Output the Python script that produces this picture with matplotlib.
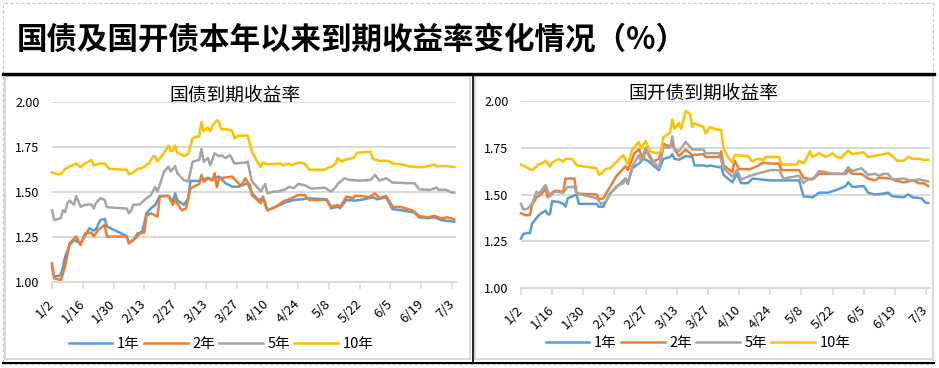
import matplotlib
matplotlib.use('Agg')
import matplotlib.pyplot as plt
import matplotlib.lines as mlines
import matplotlib.patches as mpatches
import pandas as pd

plt.rcParams['font.family'] = ['Noto Sans CJK SC', 'DejaVu Sans']

TITLE = '国债及国开债本年以来到期收益率变化情况（%）'
PANEL_TITLES = ['国债到期收益率', '国开债到期收益率']
SERIES_NAMES = ['1年', '2年', '5年', '10年']
TICK_LABELS = ['1/2', '1/16', '1/30', '2/13', '2/27', '3/13', '3/27',
               '4/10', '4/24', '5/8', '5/22', '6/5', '6/19', '7/3']
Y_TICKS = [1.00, 1.25, 1.50, 1.75, 2.00]

# ---- 国债 ----
gz_1y_dates = ['1-2', '1-3', '1-6', '1-7', '1-8', '1-10', '1-12', '1-15', '1-17', '1-19',
               '1-21', '1-22', '1-24', '1-26', '1-27', '2-5', '2-6', '2-8', '2-10', '2-12',
               '2-13', '2-14', '2-16', '2-18', '2-20', '2-24', '2-26', '2-27', '2-28', '3-3',
               '3-4', '3-5', '3-6', '3-10', '3-11', '3-12', '3-14', '3-16', '3-17', '3-19',
               '3-22', '3-25', '3-28', '3-31', '4-1', '4-3', '4-6', '4-8', '4-10', '4-14',
               '4-18', '4-22', '4-26', '4-28', '5-7', '5-9', '5-12', '5-13', '5-16', '5-20',
               '5-24', '5-28', '5-30', '6-3', '6-6', '6-10', '6-16', '6-18', '6-22', '6-25',
               '6-28', '7-1', '7-4']
gz_1y = [1.087, 1.031, 1.04, 1.087, 1.143, 1.207, 1.235, 1.217, 1.257, 1.30,
         1.287, 1.294, 1.346, 1.352, 1.31, 1.257, 1.217, 1.235, 1.272, 1.281,
         1.328, 1.383, 1.411, 1.43, 1.48, 1.48, 1.448, 1.494, 1.457, 1.43,
         1.448, 1.467, 1.563, 1.563, 1.581, 1.569, 1.581, 1.569, 1.581, 1.587,
         1.55, 1.531, 1.531, 1.546, 1.55, 1.494, 1.457, 1.467, 1.40, 1.42,
         1.443, 1.457, 1.461, 1.467, 1.461, 1.411, 1.42, 1.411, 1.457, 1.454,
         1.461, 1.472, 1.461, 1.472, 1.406, 1.40, 1.387, 1.361, 1.356, 1.361,
         1.346, 1.341, 1.337]

gz_2y_dates = ['1-2', '1-3', '1-6', '1-8', '1-10', '1-13', '1-15', '1-17', '1-20', '1-21',
               '1-23', '1-26', '1-27', '2-5', '2-6', '2-9', '2-11', '2-13', '2-14', '2-16',
               '2-19', '2-20', '2-24', '2-26', '2-27', '2-28', '3-2', '3-4', '3-6', '3-10',
               '3-11', '3-12', '3-14', '3-16', '3-17', '3-18', '3-19', '3-25', '3-29', '3-31',
               '4-1', '4-2', '4-3', '4-7', '4-8', '4-10', '4-14', '4-17', '4-21', '4-24',
               '4-27', '4-29', '5-7', '5-9', '5-12', '5-13', '5-16', '5-19', '5-20', '5-23',
               '5-26', '5-29', '5-31', '6-3', '6-6', '6-10', '6-15', '6-18', '6-22', '6-25',
               '6-28', '7-1', '7-4']
gz_2y = [1.106, 1.022, 1.013, 1.087, 1.217, 1.254, 1.207, 1.272, 1.276, 1.254,
         1.291, 1.319, 1.254, 1.254, 1.217, 1.244, 1.272, 1.276, 1.369, 1.383,
         1.365, 1.476, 1.48, 1.43, 1.461, 1.439, 1.40, 1.41, 1.522, 1.546,
         1.596, 1.559, 1.578, 1.565, 1.606, 1.528, 1.578, 1.587, 1.535, 1.578,
         1.559, 1.541, 1.485, 1.439, 1.476, 1.40, 1.42, 1.448, 1.467, 1.485,
         1.485, 1.457, 1.457, 1.42, 1.43, 1.417, 1.476, 1.467, 1.481, 1.48,
         1.472, 1.494, 1.467, 1.48, 1.42, 1.417, 1.40, 1.369, 1.361, 1.369,
         1.356, 1.361, 1.35]

gz_5y_dates = ['1-2', '1-3', '1-6', '1-7', '1-8', '1-9', '1-10', '1-12', '1-13', '1-15',
               '1-17', '1-20', '1-21', '1-22', '1-24', '1-26', '1-27', '2-5', '2-6', '2-7',
               '2-8', '2-11', '2-13', '2-16', '2-18', '2-19', '2-22', '2-24', '2-25', '2-27',
               '2-28', '3-3', '3-5', '3-7', '3-10', '3-11', '3-12', '3-14', '3-15', '3-17',
               '3-19', '3-20', '3-22', '3-24', '3-26', '3-31', '4-1', '4-3', '4-6', '4-7',
               '4-9', '4-10', '4-13', '4-15', '4-17', '4-18', '4-20', '4-22', '4-24', '4-27',
               '4-30', '5-6', '5-9', '5-11', '5-12', '5-15', '5-17', '5-22', '5-27', '5-29',
               '5-31', '6-3', '6-6', '6-16', '6-18', '6-23', '6-26', '6-27', '6-30', '7-3',
               '7-4']
gz_5y = [1.40, 1.346, 1.356, 1.40, 1.39, 1.44, 1.454, 1.43, 1.48, 1.42,
         1.43, 1.433, 1.41, 1.44, 1.467, 1.457, 1.417, 1.41, 1.383, 1.40,
         1.43, 1.433, 1.457, 1.485, 1.53, 1.504, 1.615, 1.643, 1.615, 1.646,
         1.606, 1.568, 1.56, 1.67, 1.68, 1.74, 1.67, 1.69, 1.65, 1.717,
         1.70, 1.707, 1.69, 1.707, 1.66, 1.665, 1.67, 1.56, 1.52, 1.504,
         1.546, 1.494, 1.504, 1.504, 1.513, 1.515, 1.531, 1.522, 1.546, 1.54,
         1.52, 1.526, 1.504, 1.528, 1.546, 1.578, 1.569, 1.565, 1.569, 1.596,
         1.565, 1.578, 1.554, 1.55, 1.517, 1.513, 1.526, 1.513, 1.515, 1.498,
         1.498]

gz_10y_dates = ['1-2', '1-5', '1-6', '1-8', '1-13', '1-15', '1-17', '1-20', '1-21', '1-24',
                '1-26', '1-28', '2-5', '2-6', '2-8', '2-10', '2-12', '2-15', '2-17', '2-18',
                '2-19', '2-22', '2-24', '2-25', '2-26', '2-27', '2-28', '3-2', '3-3', '3-5',
                '3-7', '3-9', '3-10', '3-11', '3-12', '3-14', '3-15', '3-16', '3-18', '3-19',
                '3-20', '3-22', '3-23', '3-25', '3-26', '3-28', '4-1', '4-3', '4-5', '4-7',
                '4-8', '4-10', '4-16', '4-17', '4-20', '4-21', '4-23', '4-25', '4-27', '4-29',
                '5-6', '5-8', '5-9', '5-11', '5-12', '5-14', '5-15', '5-17', '5-19', '5-21',
                '5-27', '5-28', '5-31', '6-4', '6-6', '6-10', '6-13', '6-17', '6-20', '6-22',
                '6-25', '6-26', '7-1', '7-4']
gz_10y = [1.61, 1.60, 1.60, 1.63, 1.66, 1.64, 1.66, 1.68, 1.65, 1.66,
          1.66, 1.63, 1.625, 1.60, 1.61, 1.63, 1.635, 1.66, 1.70, 1.70,
          1.67, 1.72, 1.76, 1.73, 1.73, 1.76, 1.72, 1.71, 1.70, 1.715,
          1.80, 1.81, 1.81, 1.89, 1.84, 1.86, 1.84, 1.87, 1.90, 1.89,
          1.85, 1.85, 1.85, 1.84, 1.80, 1.815, 1.815, 1.726, 1.68, 1.64,
          1.665, 1.655, 1.66, 1.65, 1.66, 1.65, 1.66, 1.665, 1.66, 1.625,
          1.625, 1.64, 1.64, 1.66, 1.69, 1.67, 1.68, 1.685, 1.69, 1.72,
          1.725, 1.685, 1.675, 1.675, 1.66, 1.655, 1.645, 1.64, 1.64, 1.645,
          1.655, 1.645, 1.645, 1.64]

# ---- 国开债 ----
gk_1y_dates = ['1-2', '1-3', '1-5', '1-6', '1-7', '1-9', '1-10', '1-13', '1-14', '1-15',
               '1-16', '1-19', '1-21', '1-22', '1-23', '1-25', '1-27', '1-28', '2-5', '2-6',
               '2-8', '2-11', '2-14', '2-18', '2-19', '2-21', '2-24', '2-25', '2-26', '2-28',
               '3-5', '3-7', '3-10', '3-11', '3-12', '3-14', '3-17', '3-20', '3-21', '3-25',
               '3-27', '3-28', '4-1', '4-2', '4-3', '4-7', '4-9', '4-11', '4-14', '4-16',
               '4-24', '5-7', '5-9', '5-13', '5-16', '5-20', '5-24', '5-28', '5-29', '5-31',
               '6-5', '6-7', '6-10', '6-14', '6-16', '6-18', '6-23', '6-25', '6-27', '7-1',
               '7-3', '7-4']
gk_1y = [1.265, 1.29, 1.295, 1.295, 1.345, 1.375, 1.39, 1.415, 1.395, 1.395,
         1.465, 1.46, 1.45, 1.435, 1.48, 1.49, 1.50, 1.45, 1.45, 1.435,
         1.435, 1.505, 1.54, 1.585, 1.56, 1.64, 1.665, 1.675, 1.69, 1.68,
         1.63, 1.69, 1.70, 1.715, 1.69, 1.685, 1.705, 1.70, 1.655, 1.655,
         1.65, 1.655, 1.645, 1.65, 1.605, 1.565, 1.61, 1.56, 1.56, 1.585,
         1.575, 1.575, 1.49, 1.485, 1.51, 1.51, 1.525, 1.545, 1.565, 1.54,
         1.545, 1.51, 1.50, 1.505, 1.51, 1.49, 1.485, 1.50, 1.485, 1.48,
         1.455, 1.455]

gk_2y_dates = ['1-2', '1-4', '1-6', '1-7', '1-9', '1-11', '1-13', '1-14', '1-15', '1-17',
               '1-21', '1-22', '1-26', '1-27', '2-5', '2-6', '2-8', '2-11', '2-14', '2-18',
               '2-19', '2-22', '2-24', '2-26', '2-27', '3-2', '3-5', '3-7', '3-10', '3-11',
               '3-12', '3-14', '3-17', '3-20', '3-25', '3-26', '4-1', '4-2', '4-3', '4-7',
               '4-8', '4-10', '4-15', '4-18', '4-21', '4-24', '4-28', '4-29', '5-7', '5-9',
               '5-13', '5-16', '5-22', '5-28', '5-29', '5-31', '6-4', '6-7', '6-10', '6-12',
               '6-17', '6-19', '6-23', '6-27', '6-30', '7-2', '7-4']
gk_2y = [1.40, 1.39, 1.39, 1.445, 1.485, 1.50, 1.53, 1.485, 1.50, 1.52,
         1.515, 1.585, 1.585, 1.505, 1.50, 1.475, 1.48, 1.54, 1.60, 1.65,
         1.63, 1.72, 1.74, 1.69, 1.74, 1.675, 1.69, 1.77, 1.755, 1.77,
         1.74, 1.705, 1.74, 1.71, 1.715, 1.70, 1.70, 1.73, 1.655, 1.62,
         1.68, 1.635, 1.635, 1.65, 1.67, 1.665, 1.665, 1.63, 1.63, 1.59,
         1.58, 1.61, 1.61, 1.61, 1.63, 1.61, 1.61, 1.585, 1.575, 1.59,
         1.585, 1.575, 1.565, 1.575, 1.56, 1.56, 1.545]

gk_5y_dates = ['1-2', '1-3', '1-5', '1-7', '1-9', '1-10', '1-13', '1-15', '1-17', '1-21',
               '1-23', '1-26', '1-27', '2-5', '2-7', '2-9', '2-11', '2-14', '2-17', '2-18',
               '2-19', '2-21', '2-24', '2-25', '2-27', '3-2', '3-5', '3-7', '3-10', '3-11',
               '3-12', '3-14', '3-17', '3-20', '3-25', '3-26', '4-1', '4-3', '4-7', '4-9',
               '4-11', '4-15', '4-18', '4-21', '4-24', '4-28', '4-30', '5-7', '5-9', '5-10',
               '5-13', '5-14', '5-16', '5-19', '5-22', '5-27', '5-29', '5-31', '6-4', '6-7',
               '6-10', '6-12', '6-14', '6-16', '6-18', '6-23', '6-26', '6-30', '7-4']
gk_5y = [1.45, 1.42, 1.425, 1.45, 1.515, 1.505, 1.55, 1.49, 1.515, 1.51,
         1.54, 1.54, 1.505, 1.48, 1.45, 1.46, 1.505, 1.545, 1.56, 1.585,
         1.555, 1.65, 1.71, 1.675, 1.75, 1.685, 1.64, 1.75, 1.75, 1.81,
         1.745, 1.73, 1.78, 1.74, 1.74, 1.72, 1.72, 1.64, 1.595, 1.63,
         1.58, 1.60, 1.61, 1.62, 1.63, 1.63, 1.585, 1.60, 1.56, 1.575,
         1.585, 1.595, 1.625, 1.62, 1.61, 1.61, 1.645, 1.625, 1.64, 1.605,
         1.61, 1.60, 1.61, 1.61, 1.58, 1.585, 1.575, 1.58, 1.57]

gk_10y_dates = ['1-2', '1-6', '1-7', '1-9', '1-10', '1-12', '1-13', '1-15', '1-16', '1-19',
                '1-21', '1-22', '1-25', '1-27', '2-5', '2-6', '2-7', '2-9', '2-11', '2-14',
                '2-17', '2-19', '2-21', '2-24', '2-25', '2-27', '3-1', '3-4', '3-6', '3-7',
                '3-10', '3-11', '3-12', '3-14', '3-15', '3-17', '3-19', '3-20', '3-21', '3-25',
                '3-26', '3-28', '3-31', '4-2', '4-3', '4-5', '4-7', '4-8', '4-14', '4-16',
                '4-18', '4-21', '4-22', '4-28', '4-29', '5-6', '5-7', '5-9', '5-12', '5-13',
                '5-16', '5-19', '5-22', '5-24', '5-26', '5-29', '5-31', '6-5', '6-7', '6-12',
                '6-16', '6-18', '6-20', '6-23', '6-25', '6-27', '6-30', '7-2', '7-4']
gk_10y = [1.66, 1.635, 1.63, 1.65, 1.66, 1.67, 1.68, 1.65, 1.67, 1.69,
          1.675, 1.69, 1.69, 1.655, 1.64, 1.605, 1.61, 1.635, 1.64, 1.675,
          1.71, 1.66, 1.74, 1.78, 1.745, 1.785, 1.73, 1.72, 1.73, 1.805,
          1.83, 1.90, 1.85, 1.88, 1.85, 1.945, 1.93, 1.86, 1.88, 1.86,
          1.825, 1.86, 1.845, 1.845, 1.745, 1.70, 1.67, 1.71, 1.705, 1.675,
          1.69, 1.685, 1.70, 1.70, 1.66, 1.66, 1.68, 1.665, 1.73, 1.70,
          1.72, 1.70, 1.72, 1.70, 1.695, 1.735, 1.715, 1.725, 1.70, 1.71,
          1.72, 1.705, 1.68, 1.68, 1.70, 1.69, 1.69, 1.685, 1.685]

COLORS = ['#5B9BD5', '#ED7D31', '#A5A5A5', '#FFC000']

W, H = 939, 368


def to_dt(dates):
    return pd.to_datetime(['2025-' + d for d in dates])


def fx(x):
    return x / W


def fy(y):
    return 1 - y / H


fig = plt.figure(figsize=(W / 100, H / 100), dpi=100)

# 外框、分隔线
fig.add_artist(mpatches.Rectangle((fx(3), fy(364)), fx(930), 361 / H, fill=False,
                                  ec='#c8c8c8', lw=0.8, ls=(0, (3, 2))))
fig.add_artist(mpatches.Rectangle((fx(5), fy(359)), fx(465), 283 / H, fill=False,
                                  ec='#d9d9d9', lw=1.5))
fig.add_artist(mpatches.Rectangle((fx(475), fy(359)), fx(458), 283 / H, fill=False,
                                  ec='#d9d9d9', lw=1.5))
fig.add_artist(mlines.Line2D([fx(3), fx(934)], [fy(73.5), fy(73.5)], color='black', lw=2.4))
fig.add_artist(mlines.Line2D([fx(3), fx(934)], [fy(363), fy(363)], color='black', lw=1.5))
fig.add_artist(mlines.Line2D([fx(472.5), fx(472.5)], [fy(74), fy(363)], color='black', lw=1.2))

fig.text(fx(17), fy(40), TITLE, fontsize=22, fontweight='bold', ha='left', va='center')

panels = [
    dict(rect=[fx(52), fy(282.3), 404.4 / W, 180 / H], title_xy=(235, 95), leg_xy=(221, 344),
         data=[(gz_1y_dates, gz_1y), (gz_2y_dates, gz_2y), (gz_5y_dates, gz_5y), (gz_10y_dates, gz_10y)]),
    dict(rect=[fx(521), fy(288.3), 409.4 / W, 187.6 / H], title_xy=(703, 93), leg_xy=(698, 343),
         data=[(gk_1y_dates, gk_1y), (gk_2y_dates, gk_2y), (gk_5y_dates, gk_5y), (gk_10y_dates, gk_10y)]),
]

ticks = to_dt([t.replace('/', '-') for t in TICK_LABELS])

for i, p in enumerate(panels):
    ax = fig.add_axes(p['rect'])
    for (dates, vals), name, c in zip(p['data'], SERIES_NAMES, COLORS):
        ax.plot(to_dt(dates), vals, color=c, lw=1.8, label=name, solid_joinstyle='round')
    ax.set_ylim(1.0, 2.0)
    ax.set_xlim(pd.Timestamp('2025-01-02'), pd.Timestamp('2025-07-05'))
    ax.set_yticks(Y_TICKS)
    ax.set_yticklabels([f'{v:.2f}' for v in Y_TICKS], fontsize=9)
    ax.set_xticks(ticks)
    ax.set_xticklabels(TICK_LABELS, fontsize=9.5, rotation=45, ha='right', va='center',
                       rotation_mode='anchor')
    ax.tick_params(axis='y', length=0, pad=9)
    ax.tick_params(axis='x', length=5, color='#d9d9d9', width=1.2, pad=9)
    ax.yaxis.grid(True, color='#d9d9d9', lw=1.4)
    ax.set_axisbelow(True)
    for s in ['top', 'right', 'left']:
        ax.spines[s].set_visible(False)
    ax.spines['bottom'].set_color('#d9d9d9')
    ax.spines['bottom'].set_linewidth(1.4)
    ax.patch.set_alpha(0)
    for line in ax.get_lines():
        line.set_clip_on(False)

    tx, ty = p['title_xy']
    fig.text(fx(tx), fy(ty), PANEL_TITLES[i], fontsize=13.5, ha='center', va='center')

    lx, ly = p['leg_xy']
    ax.legend(loc='center', bbox_to_anchor=(fx(lx), fy(ly)), bbox_transform=fig.transFigure,
              ncol=4, frameon=False, fontsize=10.5, handlelength=3.0, handletextpad=0.3,
              columnspacing=0.3, borderpad=0)

fig.savefig('out.png', dpi=100)
